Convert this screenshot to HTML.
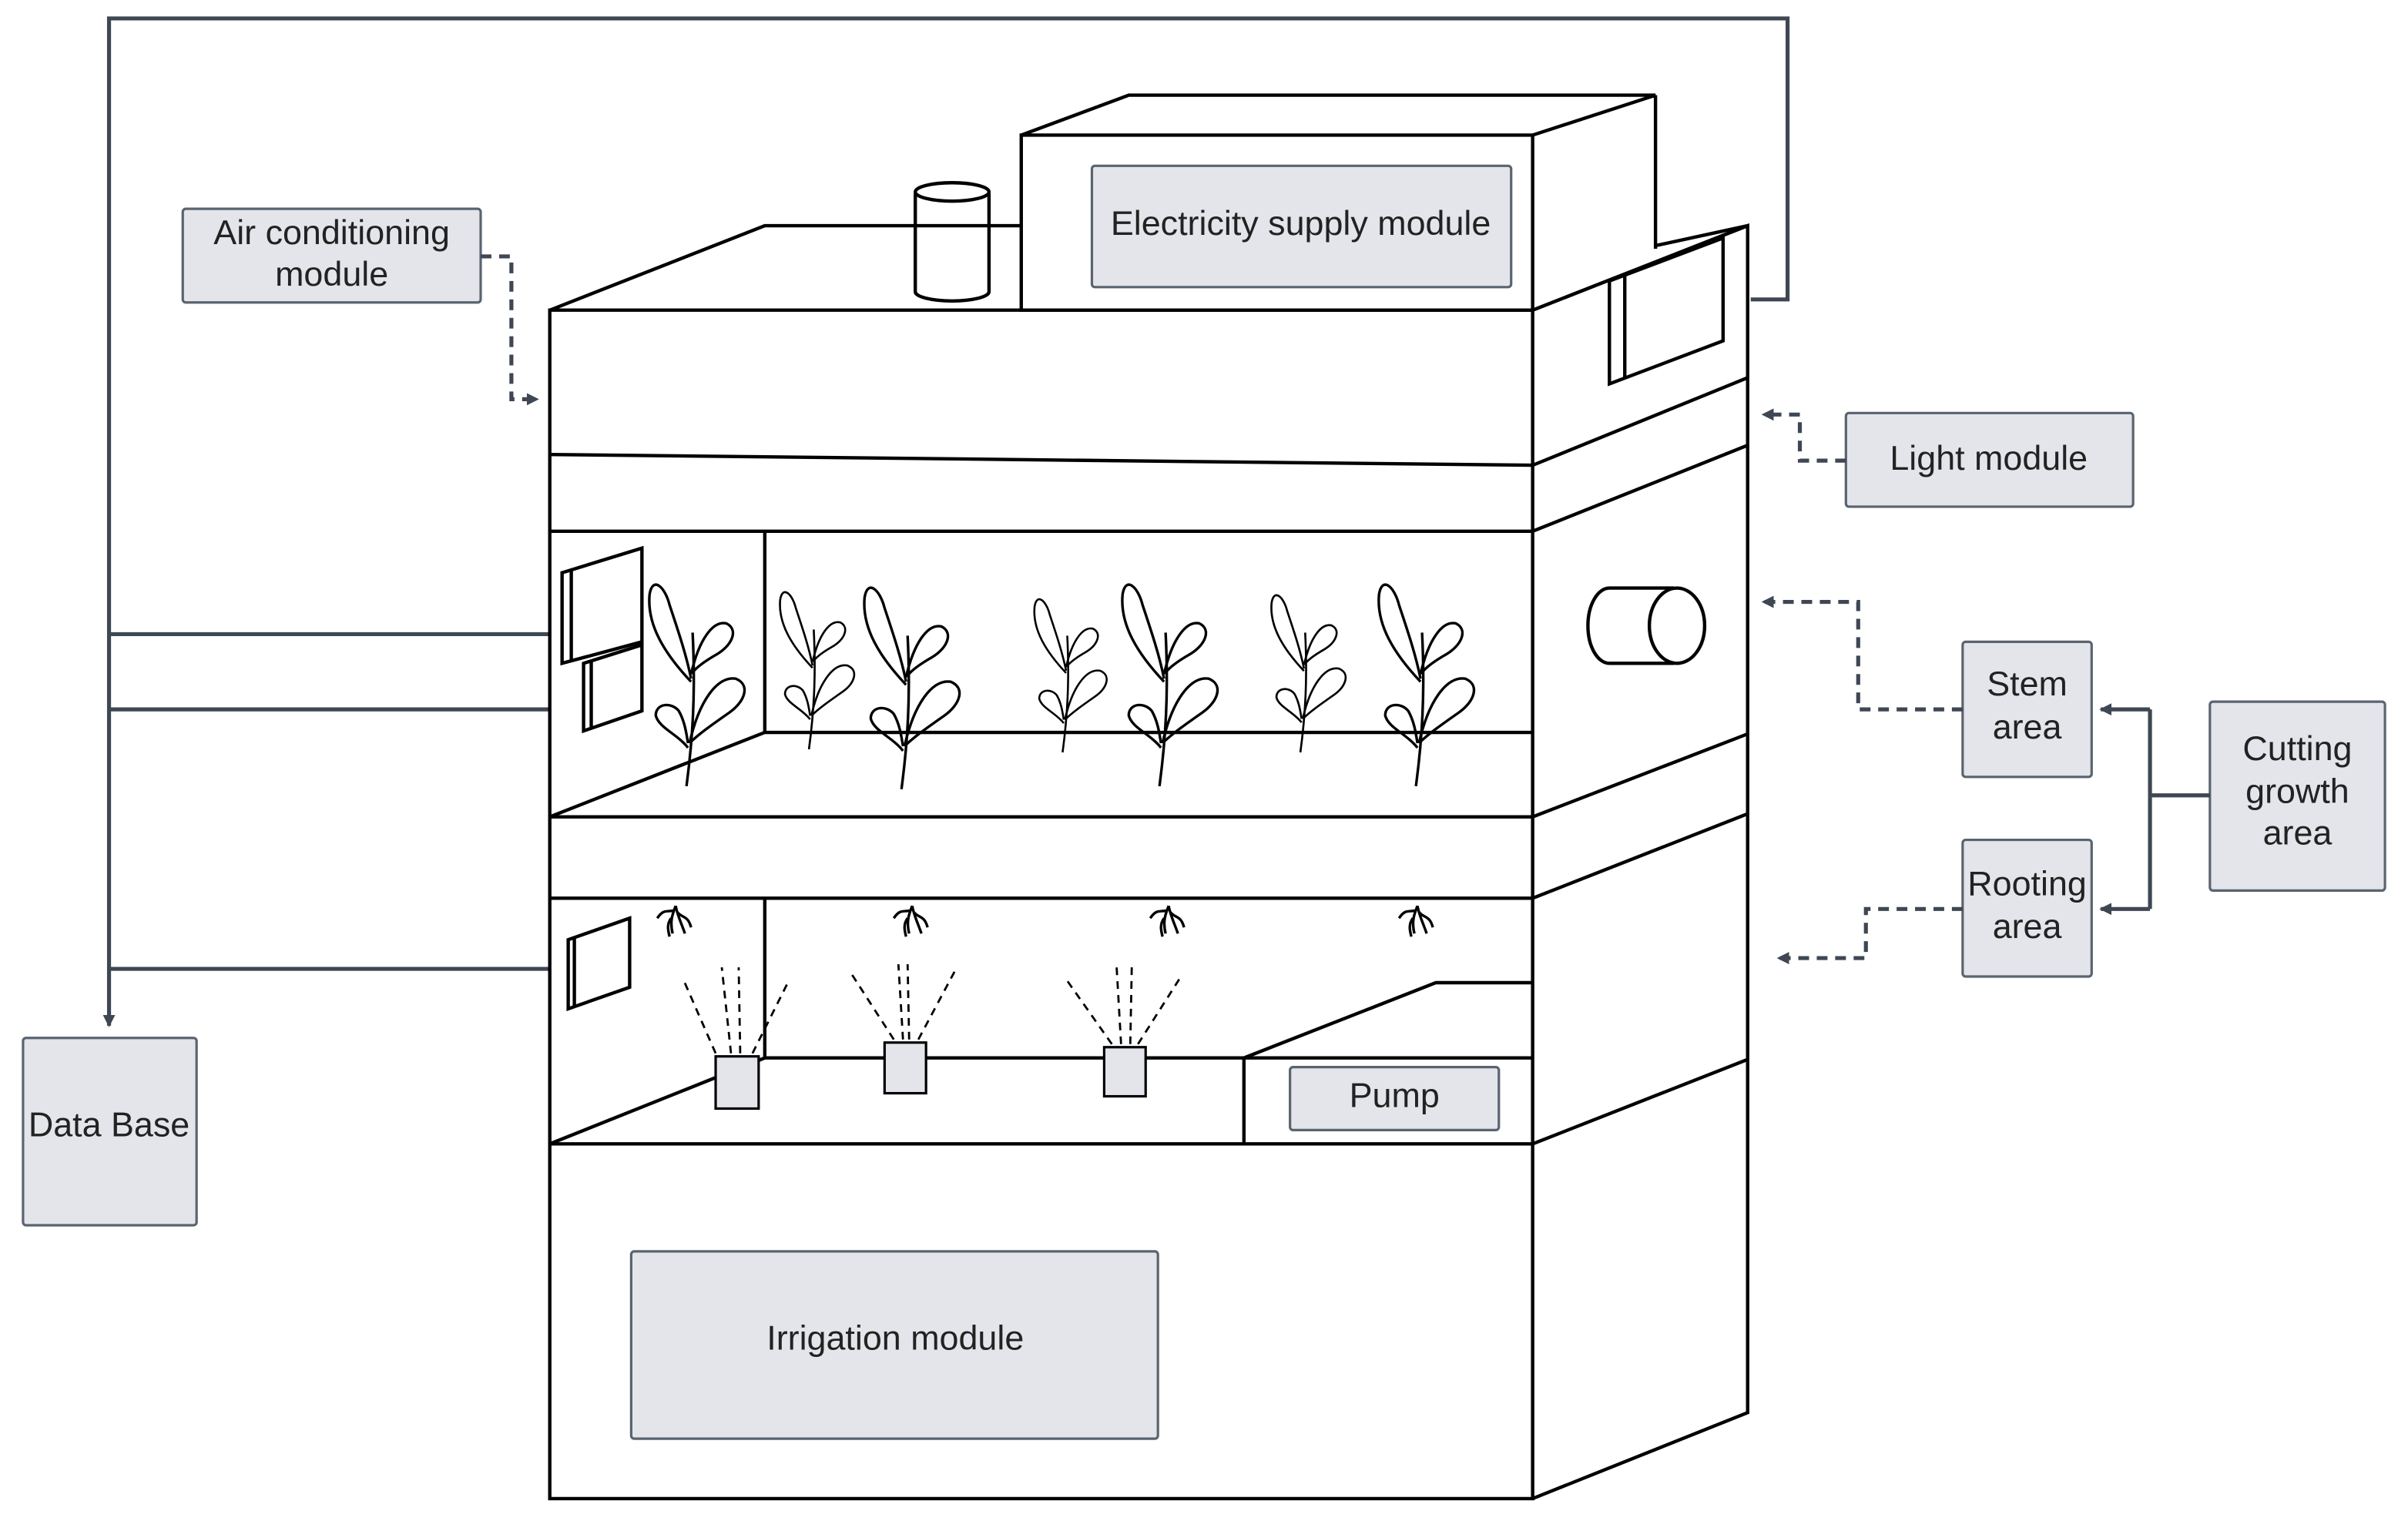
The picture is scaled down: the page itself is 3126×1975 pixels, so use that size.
<!DOCTYPE html>
<html><head><meta charset="utf-8"><style>
html,body{margin:0;padding:0;background:#fff;}
svg{display:block;}
text{font-family:"Liberation Sans",sans-serif;font-size:22.5px;fill:#222;text-anchor:middle;}
.b{fill:#e3e5ea;stroke:#5a6470;stroke-width:1.6;}
.k{fill:none;stroke:#000;stroke-width:2.2;}
.c{fill:none;stroke:#3e4753;stroke-width:2.6;}
.d{fill:none;stroke:#3e4753;stroke-width:2.6;stroke-dasharray:7 5;}
.p{fill:none;stroke:#000;stroke-width:1.7;}
</style></head><body>
<svg width="3126" height="1975" viewBox="0 0 1568 990.6" preserveAspectRatio="none">
<defs>
<marker id="a" markerWidth="8" markerHeight="8" refX="7" refY="4" orient="auto" markerUnits="userSpaceOnUse"><path d="M0,0 L8,4 L0,8 z" fill="#3e4753"/></marker>
<g id="pl">
<path class="p" d="M-8,0 C-4,-30 -2,-60 -4,-100"/>
<path class="p" d="M-5,-68 C-22,-86 -34,-105 -32,-125 C-30,-137 -22,-130 -19,-118 C-13,-100 -8,-85 -5,-70"/>
<path class="p" d="M-5,-73 C0,-95 9,-108 18,-106 C26,-102 22,-92 12,-86 C5,-82 -1,-78 -4,-74"/>
<path class="p" d="M-6,-28 C0,-55 12,-72 24,-70 C34,-66 30,-55 20,-48 C10,-41 0,-34 -6,-28"/>
<path class="p" d="M-7,-25 C-14,-34 -26,-38 -28,-46 C-28,-54 -18,-55 -13,-49 C-9,-42 -8,-34 -7,-28"/>
</g>
<g id="rt">
<path class="p" d="M0,0 C-2,5 -4,10 -2,18 M0,0 C1,6 4,12 6,18 M-1,3 C-6,4 -8,2 -12,8 M1,4 C4,8 8,6 10,14 M-3,8 C-6,12 -5,16 -4,20"/>
</g>
</defs>

<path class="c" d="M1140,195 L1164,195 L1164,12 L71,12 L71,668" marker-end="url(#a)"/>
<path class="c" d="M71,413 L358,413 M71,462 L358,462 M71,631 L358,631"/>

<path class="k" d="M358,202 L498,147 L665,147 M1078,160 L1138,147 L998,202"/>
<path class="k" d="M358,202 L998,202 L998,976 L358,976 Z"/>
<path class="k" d="M998,202 L1138,147 L1138,920 L998,976"/>
<path class="k" d="M358,296 L998,303 M358,346 L998,346 M358,532 L998,532 M358,585 L998,585 M358,745 L998,745"/>
<path class="k" d="M998,303 L1138,246 M998,346 L1138,290 M998,532 L1138,478 M998,585 L1138,530 M998,745 L1138,690"/>
<path class="k" d="M498,346 L498,477 L998,477 M358,532 L498,477"/>
<path class="k" d="M498,585 L498,689 L998,689 M358,745 L498,689 M810,689 L810,745 M810,689 L935,640 L998,640"/>
<path class="k" d="M665,88 L998,88 L998,202 L665,202 Z M665,88 L735,62 L1078,62 L998,88 M1078,62 L1078,162"/>
<rect class="b" x="711" y="108" width="273" height="79" rx="2"/>
<text x="847" y="153">Electricity supply module</text>
<path class="k" fill="#fff" d="M596,126 L596,190 A24,6 0 0 0 644,190 L644,126"/>
<ellipse class="k" cx="620" cy="125" rx="24" ry="6" fill="#fff"/>
<path class="k" d="M1048,183 L1122,155 L1122,222 L1048,250 Z M1058,180 L1058,246"/>
<path class="k" d="M1048,383 L1090,383 M1048,432 L1090,432 M1048,383 A14,24.5 0 0 0 1048,432"/>
<ellipse class="k" cx="1092" cy="407.5" rx="18" ry="24.5"/>
<path class="k" d="M366,373 L418,357 L418,418 L366,432 Z M372,371 L372,430"/>
<path class="k" d="M380,432 L418,420 L418,463 L380,476 Z M385,430 L385,474"/>
<path class="k" d="M370,612 L410,598 L410,643 L370,657 Z M374,610 L374,655"/>

<use href="#pl" transform="translate(455,512)"/>
<use href="#pl" transform="translate(533,488) scale(0.78)"/>
<use href="#pl" transform="translate(595,514)"/>
<use href="#pl" transform="translate(698,490) scale(0.76)"/>
<use href="#pl" transform="translate(763,512)"/>
<use href="#pl" transform="translate(853,490) scale(0.78)"/>
<use href="#pl" transform="translate(930,512)"/>
<use href="#rt" transform="translate(440,590)"/>
<use href="#rt" transform="translate(594,590)"/>
<use href="#rt" transform="translate(761,590)"/>
<use href="#rt" transform="translate(923,590)"/>
<g stroke="#000" stroke-width="1.4" stroke-dasharray="5 4" fill="none">
<path d="M466,686 L445,638 M476,686 L470,630 M482,686 L481,630 M490,686 L514,638"/>
<path d="M582,677 L553,632 M588,677 L585,628 M592,677 L591,628 M598,677 L622,632"/>
<path d="M724,680 L693,636 M730,680 L727,628 M736,680 L737,628 M741,680 L769,636"/>
</g>
<rect x="466" y="688" width="28" height="34" fill="#e3e5ea" stroke="#000" stroke-width="1.6"/>
<rect x="576" y="679" width="27" height="33" fill="#e3e5ea" stroke="#000" stroke-width="1.6"/>
<rect x="719" y="682" width="27" height="32" fill="#e3e5ea" stroke="#000" stroke-width="1.6"/>

<rect class="b" x="119" y="136" width="194" height="61" rx="2"/>
<text x="216" y="159">Air conditioning</text><text x="216" y="186">module</text>
<rect class="b" x="15" y="676" width="113" height="122" rx="2"/>
<text x="71" y="740">Data Base</text>
<rect class="b" x="1202" y="269" width="187" height="61" rx="2"/>
<text x="1295" y="306">Light module</text>
<rect class="b" x="1278" y="418" width="84" height="88" rx="2"/>
<text x="1320" y="453">Stem</text><text x="1320" y="481">area</text>
<rect class="b" x="1278" y="547" width="84" height="89" rx="2"/>
<text x="1320" y="583">Rooting</text><text x="1320" y="611">area</text>
<rect class="b" x="1439" y="457" width="114" height="123" rx="2"/>
<text x="1496" y="495">Cutting</text><text x="1496" y="523">growth</text><text x="1496" y="550">area</text>
<rect class="b" x="840" y="695" width="136" height="41" rx="2"/>
<text x="908" y="721">Pump</text>
<rect class="b" x="411" y="815" width="343" height="122" rx="2"/>
<text x="583" y="879">Irrigation module</text>

<path class="d" d="M313,167 L333,167 L333,260 L350,260" marker-end="url(#a)"/>
<path class="d" d="M1202,300 L1172,300 L1172,270 L1148,270" marker-end="url(#a)"/>
<path class="d" d="M1278,462 L1210,462 L1210,392 L1148,392" marker-end="url(#a)"/>
<path class="d" d="M1278,592 L1215,592 L1215,624 L1158,624" marker-end="url(#a)"/>
<path class="c" d="M1439,518 L1400,518 M1400,462 L1400,592"/>
<path class="c" d="M1400,462 L1368,462" marker-end="url(#a)"/>
<path class="c" d="M1400,592 L1368,592" marker-end="url(#a)"/>
</svg>
</body></html>
